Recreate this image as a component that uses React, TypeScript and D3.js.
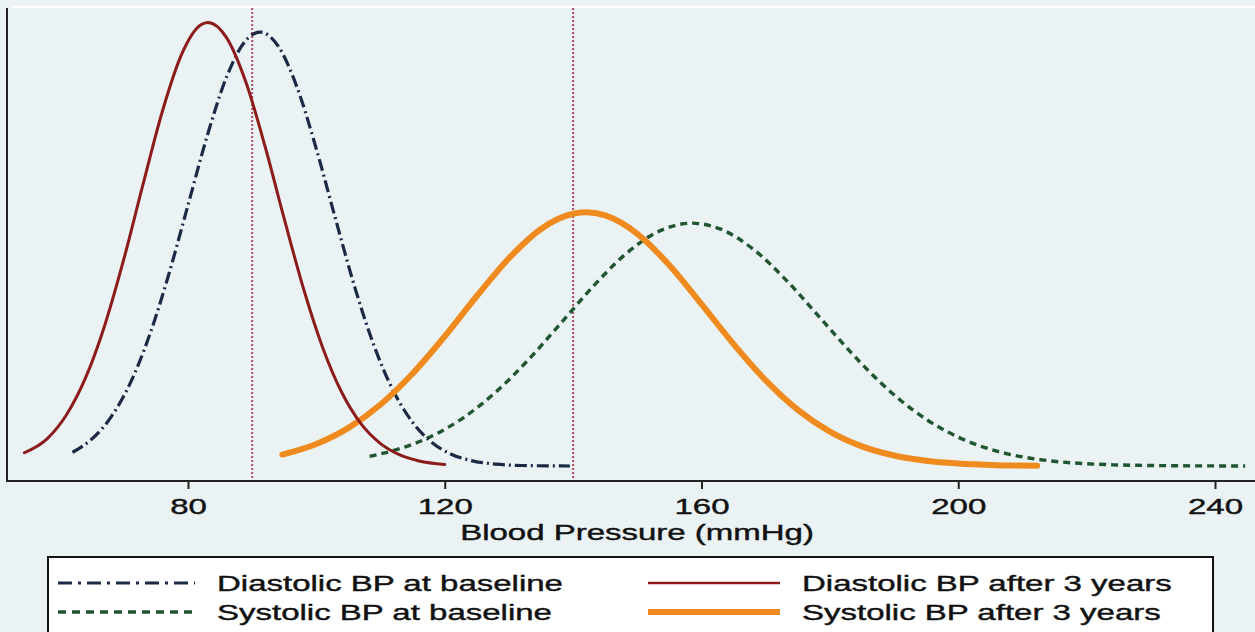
import React, { useRef, useEffect } from "react";
import * as d3 from "d3";

// density curves: [blood pressure, density]
const diastolicBaseline: [number, number][] = [
  [62, 0.00113], [65, 0.00223], [68, 0.00406], [71, 0.00689], [74, 0.01087],
  [77, 0.01593], [80, 0.0217], [83, 0.02748], [86, 0.03235], [89, 0.0354],
  [91.2, 0.0361], [94, 0.03497], [97, 0.03149], [100, 0.02636], [103, 0.02052],
  [106, 0.01484], [109, 0.00998], [112, 0.00624], [115, 0.00362], [118, 0.00196],
  [121, 0.00098], [124, 0.00046], [128, 0.00015], [132, 0.00004], [136, 0.00001],
  [139.5, 0],
];

const diastolicAfter: [number, number][] = [
  [54.5, 0.0011], [58, 0.00224], [61, 0.0042], [64, 0.00728], [67, 0.01165],
  [70, 0.0172], [73, 0.02344], [76, 0.02949], [79, 0.03424], [82, 0.0367],
  [83.1, 0.0369], [86, 0.03564], [89, 0.03196], [92, 0.0266], [95, 0.02055],
  [98, 0.01474], [101, 0.00982], [104, 0.00607], [107, 0.00348], [110, 0.00186],
  [113, 0.00092], [116, 0.00042], [120, 0.00013],
];

const systolicBaseline: [number, number][] = [
  [108.3, 0.0008], [113, 0.00144], [118, 0.00249], [123, 0.00405], [128, 0.00617],
  [133, 0.00882], [138, 0.01182], [143, 0.01487], [148, 0.01755], [153, 0.01943],
  [158.5, 0.0202], [163, 0.0197], [168, 0.01806], [173, 0.01557], [178, 0.01262],
  [183, 0.00961], [188, 0.00688], [193, 0.00463], [198, 0.00293], [203, 0.00174],
  [208, 0.00097], [213, 0.00051], [218, 0.00025], [224, 0.0001], [230, 0.00004],
  [237, 0.00001], [244.7, 0],
];

const systolicAfter: [number, number][] = [
  [94.7, 0.00095], [100, 0.00183], [105, 0.00317], [110, 0.00511], [115, 0.00769],
  [120, 0.01079], [125, 0.01414], [130, 0.01728], [135, 0.01972], [140, 0.02098],
  [142, 0.0211], [145, 0.02084], [150, 0.01931], [155, 0.0167], [160, 0.01347],
  [165, 0.01014], [170, 0.00712], [175, 0.00467], [180, 0.00286], [185, 0.00163],
  [190, 0.00087], [195, 0.00043], [200, 0.0002], [206, 0.00007], [212.3, 0.00002],
];

const xTicks = [80, 120, 160, 200, 240];
const refLines = [90, 140];
const xTitle = "Blood Pressure (mmHg)";

const seriesNames = [
  "Diastolic BP at baseline",
  "Systolic BP at baseline",
  "Diastolic BP after 3 years",
  "Systolic BP after 3 years",
];

// drawing styles, in the same order as the names
const styles = [
  { color: "#1b2945", width: 3.2, dash: "12 4 2 4" },
  { color: "#1f5530", width: 3.4, dash: "7 5" },
  { color: "#8c1b1b", width: 3, dash: null },
  { color: "#ee8a1e", width: 6, dash: null },
];

const W = 1255;
const H = 632;
const FONT = "'Liberation Sans', Arial, Helvetica, sans-serif";
const STRETCH = 1.5;

export default function App() {
  const axisRef = useRef<SVGGElement>(null);

  const x = d3.scaleLinear().domain([80, 240]).range([188, 1215]);
  const y = d3.scaleLinear().domain([-0.00125, 0.0381]).range([481, 8]);

  const line = d3
    .line<[number, number]>()
    .x((d) => x(d[0]))
    .y((d) => y(d[1]))
    .curve(d3.curveMonotoneX);

  useEffect(() => {
    const g = d3.select(axisRef.current);
    const axis = d3
      .axisBottom(x)
      .tickValues(xTicks)
      .tickSize(8)
      .tickPadding(9)
      .tickFormat(d3.format("d"));
    g.call(axis);
    g.select(".domain").remove();
    g.selectAll(".tick line").attr("stroke", "#222").attr("stroke-width", 2);
    g.selectAll(".tick text")
      .attr("font-size", 22)
      .attr("font-family", FONT)
      .attr("fill", "#111")
      .attr("stroke", "#111")
      .attr("stroke-width", 0.4)
      .attr("transform", `scale(${STRETCH},1)`);
  }, []);

  const curves = [diastolicBaseline, systolicBaseline, diastolicAfter, systolicAfter];
  // drawing order: green, navy, orange, red on top
  const order = [1, 0, 3, 2];

  const legendCols = [58, 648];
  const legendRows = [583, 612];

  return (
    <svg
      width={W}
      height={H}
      style={{ position: "absolute", left: 0, top: 0, display: "block" }}
    >
      <rect x={0} y={0} width={W} height={H} fill="#eaf2f4" />
      <line x1={12} x2={W} y1={7} y2={7} stroke="#ffffff" strokeWidth={2} />

      {refLines.map((v) => (
        <line
          key={v}
          x1={x(v)}
          x2={x(v)}
          y1={y(0.0381)}
          y2={y(-0.00125)}
          stroke="#b04a66"
          strokeWidth={2}
          strokeDasharray="2 2"
        />
      ))}

      {order.map((i) => (
        <path
          key={i}
          d={line(curves[i]) || ""}
          fill="none"
          stroke={styles[i].color}
          strokeWidth={styles[i].width}
          strokeDasharray={styles[i].dash || undefined}
          strokeLinecap={styles[i].dash ? "butt" : "round"}
        />
      ))}

      {/* axes */}
      <line x1={7} x2={7} y1={8} y2={482} stroke="#222" strokeWidth={2} />
      <line x1={6} x2={W} y1={481} y2={481} stroke="#222" strokeWidth={2} />
      <g ref={axisRef} transform={`translate(0,481)`} />
      <text
        transform={`translate(637,540) scale(${STRETCH},1)`}
        textAnchor="middle"
        fontSize={22}
        fontFamily={FONT}
        fill="#111"
        stroke="#111"
        strokeWidth={0.4}
      >
        {xTitle}
      </text>

      {/* legend */}
      <rect x={48} y={557} width={1165} height={110} fill="#ffffff" stroke="#111" strokeWidth={2} />
      {seriesNames.map((name, i) => {
        const col = Math.floor(i / 2);
        const row = i % 2;
        const lx = legendCols[col];
        const ly = legendRows[row];
        const len = col === 0 ? 137 : 132;
        return (
          <g key={name}>
            <line
              x1={lx}
              x2={lx + len}
              y1={ly}
              y2={ly}
              stroke={styles[i].color}
              strokeWidth={i === 2 ? 2.5 : styles[i].width}
              strokeDasharray={styles[i].dash ? (i === 0 ? "14 6 3 6" : "8 6") : undefined}
            />
            <text
              transform={`translate(${lx + len + 22},${ly + 8}) scale(${STRETCH},1)`}
              fontSize={22}
              fontFamily={FONT}
              fill="#111"
              stroke="#111"
              strokeWidth={0.4}
            >
              {name}
            </text>
          </g>
        );
      })}
    </svg>
  );
}
